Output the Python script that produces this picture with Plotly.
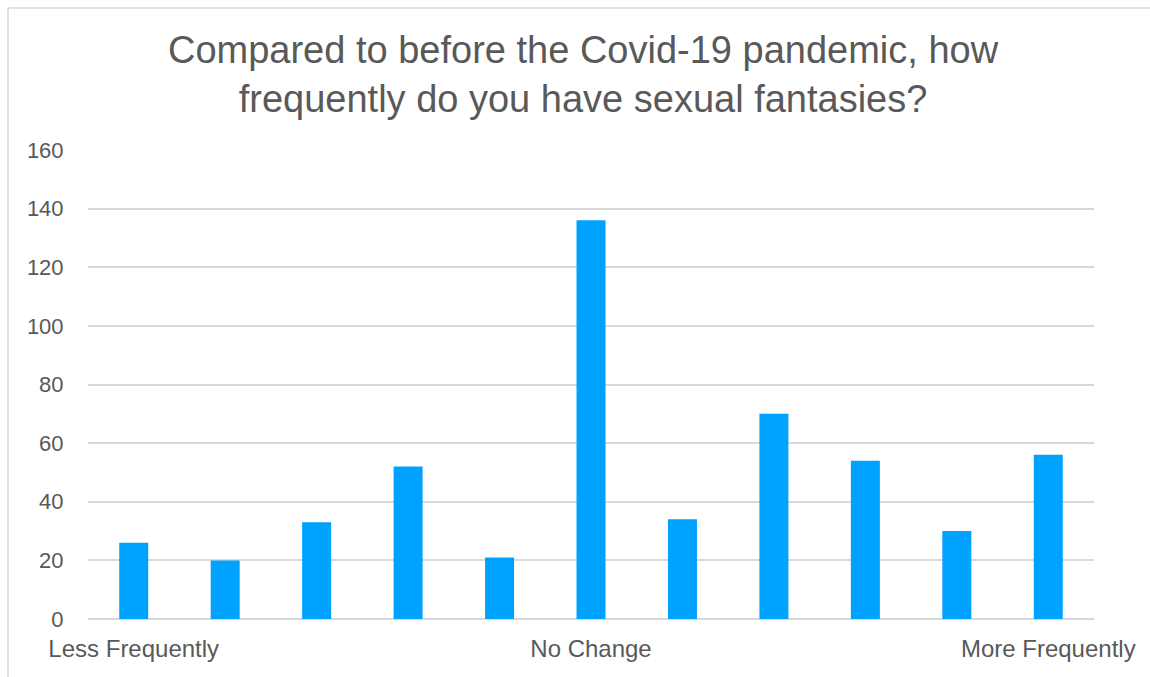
import plotly.graph_objects as go

# Survey responses on a 1–11 scale, from "Less Frequently" to "More Frequently"
scale_points = list(range(1, 12))
responses = [26, 20, 33, 52, 21, 136, 34, 70, 54, 30, 56]
tick_positions = [1, 6, 11]
tick_labels = ["Less Frequently", "No Change", "More Frequently"]
y_ticks = [0, 20, 40, 60, 80, 100, 120, 140, 160]

text_color = "#595959"
grid_color = "#d9d9d9"
font_family = "Liberation Sans, Arial, sans-serif"

fig = go.Figure(
    go.Bar(
        x=scale_points,
        y=responses,
        marker=dict(color="#00a2ff", line=dict(width=0)),
        width=0.317,
        hoverinfo="x+y",
    )
)

fig.update_layout(
    width=1150,
    height=677,
    margin=dict(l=88, r=56, t=150, b=58),
    paper_bgcolor="white",
    plot_bgcolor="white",
    showlegend=False,
    title=dict(
        text="Compared to before the Covid-19 pandemic, how<br>frequently do you have sexual fantasies?",
        x=0.507,
        xanchor="center",
        y=0.907,
        yanchor="top",
        font=dict(family=font_family, size=38, color=text_color),
    ),
    font=dict(family=font_family, color=text_color),
)

fig.update_xaxes(
    range=[0.5, 11.5],
    tickmode="array",
    tickvals=tick_positions,
    ticktext=tick_labels,
    tickfont=dict(size=24, color=text_color),
    ticks="outside",
    ticklen=8,
    tickcolor="rgba(0,0,0,0)",
    showgrid=False,
    showline=False,
    zeroline=False,
)

fig.update_yaxes(
    range=[0, 160],
    tickmode="array",
    tickvals=y_ticks,
    tickfont=dict(size=22, color=text_color),
    ticks="outside",
    ticklen=19,
    tickcolor="rgba(0,0,0,0)",
    showgrid=True,
    gridcolor=grid_color,
    gridwidth=1.5,
    zeroline=True,
    zerolinecolor=grid_color,
    zerolinewidth=1.5,
    showline=False,
)

# Light frame around the chart area
fig.add_shape(
    type="rect",
    xref="paper",
    yref="paper",
    x0=-0.0795,
    x1=1.2,
    y0=-0.3,
    y1=1.3028,
    line=dict(color=grid_color, width=1.5),
    fillcolor="rgba(0,0,0,0)",
    layer="below",
)

fig.write_html("out.html")
